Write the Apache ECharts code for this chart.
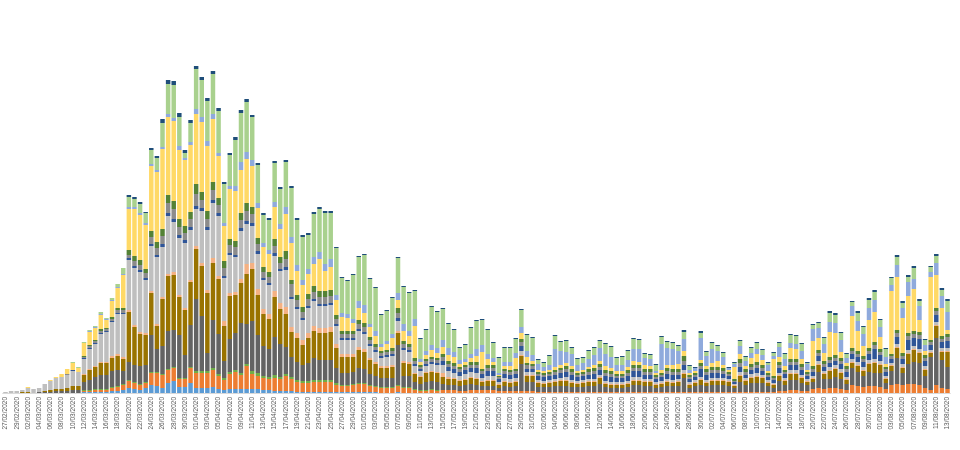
<!DOCTYPE html>
<html>
<head>
<meta charset="utf-8">
<script src="https://cdn.jsdelivr.net/npm/echarts@6/dist/echarts.min.js"></script>
<style>html,body{margin:0;padding:0;background:#fff}#c{width:960px;height:450px}</style>
</head>
<body>
<div id="c"></div>
<script>
// categories: daily from 27/02/2020 to 13/08/2020
var startDate = [2020, 1, 27];
var dayCount = 169;
var categories = [];
(function(){
  var d = new Date(Date.UTC(startDate[0], startDate[1], startDate[2]));
  for (var i = 0; i < dayCount; i++) {
    var dd = String(d.getUTCDate()).padStart(2,'0');
    var mm = String(d.getUTCMonth()+1).padStart(2,'0');
    categories.push(dd + '/' + mm + '/' + d.getUTCFullYear());
    d.setUTCDate(d.getUTCDate()+1);
  }
})();

var sLightBlue = [0,0,0,0,0,0,0,0,0,0,0,0,0,0,
 1,1,1,1,1,2,2,3,
 5,4,3,5,8,7,5,10,12,6,6,10,5,5,5,6,4,3,4,4,4,4,4,4,3,3,2,2,
 2,2,1,1,1,1,1,1,1,1,1,1,1,1,1,1,1,0,0,0,1,0,0,0,0,0,0,0,
 0,0,0,0,0,0,0,0,0,0, 0,0,0,0,0,0,0,0,0,0, 0,0,0,0,0,0,0,0,0,
 0,0,0,0,0,0,0,0,0,0, 0,0,0,0,0,0,0,0,0,0, 0,0,0,0,0,0,0,0,0,0, 0,0,
 0,0,0,0,0,0,0,0,0,0, 0,0,0,0,0,0,0,0,0,0, 0,0,0,0,0,0,0,0,0,0];
var sOrange = [0,0,0,0,0,0,0,0,0,0,0,0,0,0,
 1,1,2,2,2,3,4,5,
 7,6,5,5,12,13,13,13,13,8,8,15,15,15,15,17,13,10,15,17,14,23,15,13,12,11,13,12,
 15,12,10,9,9,10,10,10,10,7,6,6,7,8,8,6,5,5,5,5,6,5,5,3,2,2,3,2,
 3,3,3,2,2,3,3,3,3,3,2,2,2,2,2,2,2,1,1,1,1,1,1,1,1,1,1,1,1,
 1,1,1,1,1,1,1,1,1,1, 1,1,1,1,1,1,1,1,1,1, 1,1,1,1,1,1,1,1,1,1, 1,2,
 2,3,3,2,2,4,5,4,5,5,4,3,8,7,6,7,7,6,4,8,9,8,9,9,8,5,3,8,5,4];
var sGreen = [0,0,0,0,0,0,0,0,0,0,0,0,0,0,
 1,1,1,1,1,1,1,1,
 1,1,1,1,1,1,1,1,1,1,1,1,2,2,2,2,2,2,2,2,2,2,3,3,2,2,3,2,
 2,2,2,2,2,2,2,2,2,2,1,1,1,1,1,1,1,1,1,1,1,1,1,1,1,1,1,1,
 0,0,0,0,0,0,0,0,0,0, 0,0,0,0,0,0,0,0,0,0, 0,0,0,0,0,0,0,0,0,
 0,0,0,0,0,0,0,0,0,0, 0,0,0,0,0,0,0,0,0,0, 0,0,0,0,0,0,0,0,0,0, 0,0,
 0,0,0,0,0,0,0,0,0,0, 0,0,0,0,0,0,0,0,0,0, 0,0,0,0,0,0,0,0,0,0];
var sDarkGray = [0,0,0,0,0,0,1,1,1,2,2,2,3,3,
 8,10,12,14,14,16,16,13,
 18,17,18,17,37,23,28,38,37,43,23,42,72,55,18,48,40,17,33,37,50,40,50,38,30,28,38,33,
 27,20,18,16,18,22,20,20,20,15,12,12,12,15,14,11,10,9,9,9,40,11,11,7,6,8,8,8,
 6,5,5,5,6,6,5,4,4,4,3,5,4,5,27,9,9,5,5,5,6,6,6,5,5,5,6,6,8,
 5,4,4,4,5,7,7,6,6,4,5,6,6,6,14,4,6,7,6,7,7,7,6,4,10,7,9,9,9,6,4,10,
 6,10,10,8,6,7,16,10,9,11,10,6,17,14,11,14,13,14,6,14,26,12,20,22,22,12,33,47,28,22];
var sOlive = [0,0,0,1,1,0,0,1,2,2,2,3,4,4,
 7,10,10,12,12,13,14,12,
 50,38,32,30,42,23,47,55,55,38,45,43,50,50,60,57,55,35,43,38,40,50,52,40,32,30,40,35,
 33,25,24,20,25,27,27,27,28,20,16,16,15,18,17,14,12,10,10,11,12,13,12,8,7,9,9,9,
 7,6,6,5,5,6,6,4,5,5,3,4,4,4,8,6,6,4,3,4,4,5,5,4,3,4,4,4,6,
 3,3,3,3,3,4,4,4,4,3,3,4,3,4,4,3,3,5,3,4,4,4,4,2,6,4,5,6,5,3,3,5,
 4,6,6,5,3,3,7,5,8,8,6,4,5,6,5,8,10,8,4,5,10,5,10,12,10,6,4,12,8,15];
var sLightOrange = [0,0,0,0,0,0,0,0,0,0,0,0,0,0,
 1,1,1,1,1,2,2,2,
 2,2,2,2,2,2,2,2,3,2,2,2,3,3,3,5,3,5,3,3,4,10,6,6,5,5,6,6,
 7,5,5,5,5,5,5,5,5,4,3,3,3,3,3,2,2,2,2,2,2,2,2,1,1,1,1,1,
 4,2,1,1,1,1,1,1,1,1, 1,1,1,1,1,1,1,1,1,1, 1,1,1,1,1,1,1,1,1,
 1,1,1,1,1,1,1,1,1,1, 1,1,1,1,1,1,1,1,1,1, 1,1,1,1,1,1,1,1,1,1, 1,1,
 1,1,1,1,1,1,1,1,1,1, 1,1,1,1,1,1,1,1,1,1, 1,1,1,1,1,1,1,1,1,1];
var sLightGray = [1,2,2,2,4,4,4,7,9,11,12,13,15,14,
 15,20,22,28,30,34,40,43,
 50,57,60,53,45,67,50,58,50,57,65,50,37,52,60,55,60,43,38,35,48,40,37,35,29,29,35,32,
 37,28,24,20,25,25,22,22,22,18,14,14,14,16,15,12,10,8,9,9,10,11,10,7,5,6,7,7,
 8,6,5,4,5,5,5,3,4,4,2,3,3,3,4,3,3,2,2,2,2,2,3,2,2,2,2,2,2,
 2,2,2,2,2,3,3,2,2,2,2,2,2,2,3,2,2,2,2,2,2,2,2,1,3,2,3,3,2,2,1,2,
 2,3,3,2,2,2,3,2,3,3,3,2,3,3,3,3,3,3,2,2,3,3,3,3,3,3,2,3,3,3];
var sBlue = [0,0,0,0,0,0,0,0,0,0,0,0,1,0,
 1,1,1,1,1,1,1,1,
 2,2,2,2,2,2,3,3,3,3,3,3,3,3,3,3,3,2,2,2,3,3,3,3,2,2,3,2,
 3,2,2,2,2,2,2,2,2,2,2,2,2,2,2,2,2,2,2,2,3,2,2,2,2,2,2,2,
 4,4,4,4,4,4,5,4,5,5,3,4,4,4,5,3,3,4,4,4,4,5,5,5,4,4,4,5,5,
 5,5,4,4,5,6,6,4,4,3,4,5,5,4,5,3,3,8,5,5,5,4,3,2,5,3,4,5,4,3,3,5,
 4,5,5,5,3,4,5,4,4,4,5,5,5,5,5,6,10,6,4,4,7,5,10,8,10,5,5,7,6,7];
var sMidGray = [0,0,0,0,0,0,0,0,0,0,0,1,0,0,
 1,2,2,2,2,2,3,3,
 3,5,5,5,7,7,8,10,10,8,7,8,12,8,8,10,8,8,8,8,8,10,9,7,6,6,7,6,
 8,13,7,6,7,7,7,7,7,5,4,4,4,5,5,4,3,3,3,3,5,4,3,3,2,3,3,3,
 4,3,3,3,3,3,3,3,3,3,2,3,3,3,4,4,3,2,2,2,3,3,3,3,2,2,3,3,3,
 3,3,2,2,3,3,3,3,3,2,2,3,3,3,4,2,2,3,3,3,3,3,2,1,4,3,3,3,3,2,2,3,
 2,3,3,3,2,3,3,3,3,3,3,3,3,3,3,3,4,3,3,3,4,3,4,4,4,3,3,4,3,4];
var sDarkGreen = [0,0,0,0,0,0,0,0,0,0,0,0,0,0,
 1,1,1,2,1,2,2,2,
 5,5,5,4,6,6,7,8,8,8,7,7,10,8,8,8,7,7,6,6,7,8,7,6,5,5,7,6,
 8,4,5,5,5,6,6,6,6,4,3,3,3,4,4,3,3,2,2,3,5,3,3,3,2,2,2,2,
 3,3,3,2,2,3,3,2,3,3,1,2,2,2,3,2,2,2,2,2,2,2,3,3,2,2,3,3,3,
 3,3,2,2,3,3,3,3,3,2,2,3,3,3,5,2,2,3,3,3,3,3,2,2,4,3,3,3,3,2,2,3,
 2,3,3,3,2,3,3,3,3,3,3,3,3,3,3,3,3,3,2,2,3,3,3,3,3,3,2,3,3,3];
var sYellow = [0,0,0,0,1,0,0,0,1,1,3,5,7,4,
 13,13,12,14,8,16,20,33,
 41,47,45,44,65,70,80,78,80,69,66,67,70,70,65,63,42,35,50,50,43,44,41,30,20,18,32,28,
 37,37,24,22,20,22,32,20,23,15,14,13,8,12,10,10,8,4,6,10,8,10,8,32,3,4,7,5,
 7,6,6,3,3,4,6,17,6,3,1,3,4,11,6,6,3,2,2,2,3,3,3,3,2,2,2,3,3,
 4,3,3,3,3,4,3,4,3,2,3,3,4,5,5,2,2,3,3,4,6,3,2,12,5,3,6,8,5,2,17,5,
 4,11,10,5,2,25,12,8,25,22,6,3,32,20,10,28,30,12,3,63,53,35,37,42,12,4,63,33,28,4];
var sPeriwinkle = [0,0,0,0,0,0,0,0,0,0,0,0,0,0,
 0,1,1,1,1,1,1,1,
 2,2,2,2,2,2,2,3,3,4,2,3,5,5,5,5,3,3,3,5,8,7,6,5,4,4,5,5,
 7,6,6,5,5,7,7,7,8,5,4,4,4,7,8,3,5,3,3,4,7,7,5,7,3,4,5,5,
 7,7,5,4,3,4,7,7,5,4,2,4,4,5,6,6,6,6,4,5,18,14,11,12,6,7,8,10,13,
 12,11,6,6,7,12,13,7,7,2,26,17,16,13,12,3,3,22,10,14,10,8,2,3,8,5,5,5,5,6,3,10,
 7,5,5,8,6,12,10,9,10,10,12,5,10,10,12,12,12,10,7,6,12,10,14,10,14,6,5,12,12,18];
var sLightGreen = [0,0,0,0,0,0,0,0,0,0,0,0,1,1,
 1,1,1,2,1,2,3,6,
 10,8,9,10,14,12,24,30,33,29,5,19,40,37,40,40,42,39,31,46,49,50,43,38,28,30,39,35,
 45,49,45,43,34,43,43,51,46,47,35,33,44,44,50,45,43,29,30,36,35,37,38,28,20,21,38,36,
 31,24,22,12,14,26,28,25,24,15,15,14,14,14,17,16,17,4,4,9,13,9,11,6,6,5,8,7,7,
 10,10,7,8,9,10,9,4,4,6,7,6,6,5,7,4,0,5,4,6,5,4,0,1,5,4,5,6,5,2,3,4,
 5,8,8,7,1,4,5,6,9,8,7,4,4,8,7,8,8,7,8,7,8,5,5,11,5,5,5,7,6,11];
var sNavy = [0,0,0,0,0,0,0,0,0,0,0,0,0,0,
 0,0,0,0,0,0,0,0,
 2,2,2,1,2,2,4,4,4,4,3,3,3,3,3,3,3,2,2,3,3,3,2,2,2,2,2,2,
 2,2,2,2,2,2,2,2,2,1,1,1,1,1,1,1,1,1,1,1,1,1,1,1,1,1,1,1,
 1,1,1,1,1,1,1,1,1,1, 1,1,1,1,1,1,1,1,1,1, 1,1,1,1,1,1,1,1,1,
 1,1,1,1,1,1,1,1,1,1, 1,1,1,1,2,1,1,2,1,1, 1,1,1,1,1,1,1,1,1,1, 1,1,
 1,1,1,1,1,1,1,1,2,2,1,1,1,2,1,2,2,1,1,1,2,2,2,2,2,1,1,2,2,2];

var seriesDefs = [
  {name:'s1', data:sLightBlue, color:'#5B9BD5'},
  {name:'s2', data:sOrange, color:'#ED7D31'},
  {name:'s3', data:sGreen, color:'#70AD47'},
  {name:'s4', data:sDarkGray, color:'#636363'},
  {name:'s5', data:sOlive, color:'#997300'},
  {name:'s6', data:sLightOrange, color:'#F4B183'},
  {name:'s7', data:sLightGray, color:'#BFBFBF'},
  {name:'s8', data:sBlue, color:'#2F5597'},
  {name:'s9', data:sMidGray, color:'#8C8C8C'},
  {name:'s10', data:sDarkGreen, color:'#548235'},
  {name:'s11', data:sYellow, color:'#FFD966'},
  {name:'s12', data:sPeriwinkle, color:'#8FAADC'},
  {name:'s13', data:sLightGreen, color:'#A9D18E'},
  {name:'s14', data:sNavy, color:'#1F4E79'}
];
seriesDefs.forEach(function(s){ if (s.data.length !== dayCount) console.log(s.name, s.data.length); });

var chart = echarts.init(document.getElementById('c'), null, {renderer:'canvas'});
chart.setOption({
  animation: false,
  backgroundColor: '#ffffff',
  grid: {left: 2.7, right: 9.7, top: 63, bottom: 57},
  xAxis: {
    type: 'category',
    data: categories,
    axisLine: {lineStyle: {color: '#d9d9d9'}},
    axisTick: {show: false},
    axisLabel: {rotate: 90, interval: 1, fontSize: 6.5, color: '#595959', margin: 4, fontFamily: 'Liberation Sans'}
  },
  yAxis: {type: 'value', min: 0, max: 330, show: false, splitLine: {show: false}},
  series: seriesDefs.map(function(s){
    return {name: s.name, type: 'bar', stack: 'all', data: s.data, barCategoryGap: '20%',
      itemStyle: {color: s.color}};
  })
});
</script>
</body>
</html>
